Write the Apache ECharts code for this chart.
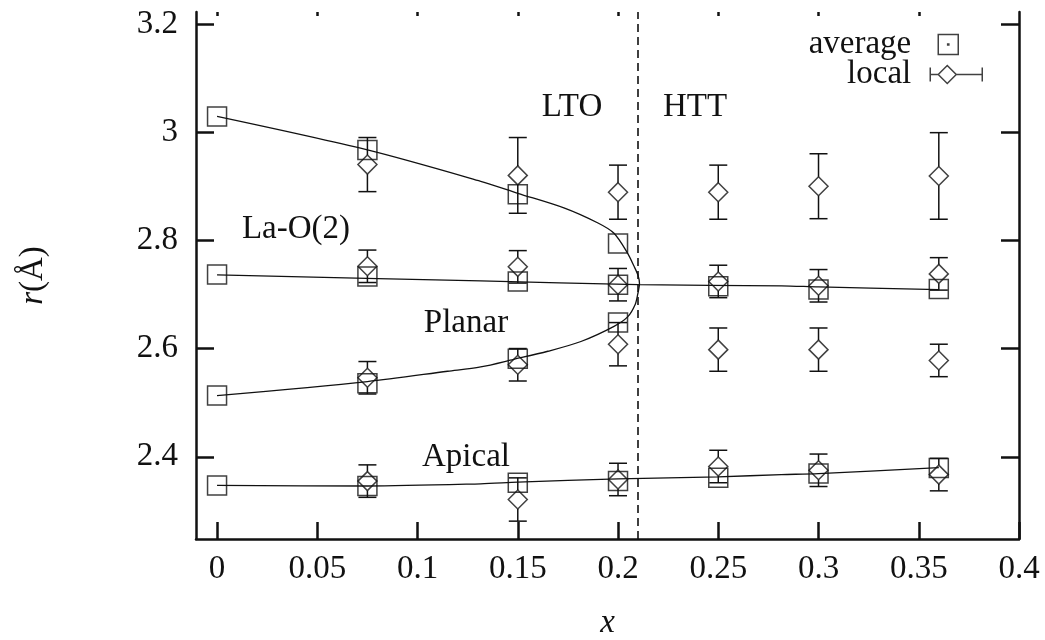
<!DOCTYPE html>
<html lang="en">
<head>
    <meta charset="UTF-8">
    <title>r vs x</title>
    <script src="https://cdn.jsdelivr.net/npm/echarts@6/dist/echarts.min.js"></script>
    <style>
        html, body { margin: 0; padding: 0; background: #fff; }
    </style>
</head>
<body>
    <div id="main" style="width: 1045px; height: 640px"></div>
    <script type="text/javascript">
        // phase boundary LTO / HTT
        const boundaryX = 0.21;
        const xTicks = [0, 0.05, 0.1, 0.15, 0.2, 0.25, 0.3, 0.35, 0.4];
        const yTicks = [2.4, 2.6, 2.8, 3, 3.2];

        // average (squares)
        const avgX = [0, 0.075, 0.15, 0.2, 0.25, 0.3, 0.36];
        const avgLaO = [2.737, 2.733, 2.724, 2.718, 2.715, 2.709, 2.710];
        const avgApical = [2.347, 2.346, 2.352, 2.355, 2.361, 2.369, 2.379];
        const avgLtoX = [0, 0.075, 0.15, 0.2];
        const avgUpper = [3.029, 2.967, 2.885, 2.794];
        const avgPlanar = [2.513, 2.536, 2.581, 2.648];

        // local (diamonds with error bars)
        const locX = [0.075, 0.15, 0.2, 0.25, 0.3, 0.36];
        const locUpper = [2.940, 2.920, 2.889, 2.889, 2.900, 2.919];
        const locUpperErr = [0.05, 0.07, 0.05, 0.05, 0.06, 0.08];
        const locLaO = [2.752, 2.751, 2.718, 2.724, 2.716, 2.738];
        const locLaOErr = [0.03, 0.03, 0.03, 0.03, 0.03, 0.03];
        const locPlanar = [2.546, 2.570, 2.608, 2.598, 2.598, 2.578];
        const locPlanarErr = [0.03, 0.03, 0.04, 0.04, 0.04, 0.03];
        const locApical = [2.355, 2.321, 2.358, 2.382, 2.375, 2.367];
        const locApicalErr = [0.03, 0.04, 0.03, 0.03, 0.03, 0.03];

        // guide curves
        const splitX = [0, 0.075, 0.1315, 0.15, 0.173, 0.19, 0.198, 0.2048, 0.208, 0.2100, 0.2107,
                        0.2098, 0.2085, 0.2049, 0.198, 0.1815, 0.165, 0.148, 0.1315, 0.115, 0.075, 0];
        const splitY = [3.029, 2.967, 2.909, 2.887, 2.860, 2.832, 2.813, 2.776, 2.752, 2.735, 2.720,
                        2.700, 2.681, 2.659, 2.641, 2.613, 2.595, 2.580, 2.566, 2.558, 2.539, 2.513];
        const laoX = [0, 0.1315, 0.21, 0.2815, 0.3, 0.36];
        const laoY = [2.736, 2.725, 2.718, 2.716, 2.714, 2.709];
        const apX = [0, 0.075, 0.1315, 0.15, 0.2, 0.25, 0.2815, 0.3, 0.36];
        const apY = [2.347, 2.346, 2.350, 2.353, 2.359, 2.363, 2.367, 2.369, 2.380];

        const serif = '"Liberation Serif", "DejaVu Serif", serif';
        const ink = '#111';
        const xMin = -0.0105, xMax = 0.4, yMin = 2.248, yMax = 3.222;

        function pairs(xs, ys) { return xs.map((x, i) => [x, ys[i]]); }
        function triples(xs, ys, es) { return xs.map((x, i) => [x, ys[i], es[i]]); }

        const avgData = pairs(avgX, avgLaO).concat(pairs(avgX, avgApical),
            pairs(avgLtoX, avgUpper), pairs(avgLtoX, avgPlanar));
        const locData = pairs(locX, locUpper).concat(pairs(locX, locLaO),
            pairs(locX, locPlanar), pairs(locX, locApical));
        const errData = triples(locX, locUpper, locUpperErr).concat(triples(locX, locLaO, locLaOErr),
            triples(locX, locPlanar, locPlanarErr), triples(locX, locApical, locApicalErr));

        function renderErr(params, api) {
            const x = api.value(0), y = api.value(1), e = api.value(2);
            const c = api.coord([x, y]);
            const t = api.coord([x, y + e]);
            const b = api.coord([x, y - e]);
            const gap = 9.5, cap = 9;
            const st = {stroke: ink, lineWidth: 1.5};
            const kids = [];
            if (t[1] < c[1] - gap) kids.push({type: 'line', shape: {x1: c[0], y1: t[1], x2: c[0], y2: c[1] - gap}, style: st});
            if (b[1] > c[1] + gap) kids.push({type: 'line', shape: {x1: c[0], y1: c[1] + gap, x2: c[0], y2: b[1]}, style: st});
            kids.push({type: 'line', shape: {x1: c[0] - cap, y1: t[1], x2: c[0] + cap, y2: t[1]}, style: st});
            kids.push({type: 'line', shape: {x1: c[0] - cap, y1: b[1], x2: c[0] + cap, y2: b[1]}, style: st});
            return {type: 'group', children: kids};
        }

        const hollow = {color: 'rgba(0,0,0,0)', borderColor: ink, borderWidth: 1.5};
        const legendText = {fontFamily: serif, fontSize: 33, color: ink};

        function txt(s, x, y) {
            return {type: 'text', x: x, y: y, style: {text: s, font: '33px ' + serif, fill: ink, align: 'center', verticalAlign: 'middle'}};
        }

        let myChart = echarts.init(document.getElementById('main'));
        let option = {
            animation: false,
            backgroundColor: '#fff',
            grid: {left: 196, right: 26, top: 12, bottom: 101, outerBoundsMode: 'none'},
            legend: [
                {
                    data: [{name: 'average', icon: 'path://M0,0H20V20H0ZM9.4,9.4H10.6V10.6H9.4Z', itemStyle: hollow}],
                    right: 86, top: 28, padding: 0, itemWidth: 20, itemHeight: 20, align: 'right',
                    selectedMode: false,
                    textStyle: Object.assign({padding: [0, 22, 11, 0]}, legendText)
                },
                {
                    data: [{name: 'local', icon: 'path://M0,2V16M0,9H8M26,9H52M52,2V16M17,0L26,9L17,18L8,9Z', itemStyle: hollow}],
                    right: 62, top: 58, padding: 0, itemWidth: 52, itemHeight: 18, align: 'right',
                    selectedMode: false,
                    textStyle: Object.assign({padding: [0, 14, 0, 0]}, legendText)
                }
            ],
            xAxis: [
                {
                    type: 'value', position: 'bottom', min: xMin, max: xMax,
                    name: 'x', nameLocation: 'middle', nameGap: 68,
                    nameTextStyle: {fontFamily: serif, fontSize: 33, fontStyle: 'italic', color: ink},
                    axisLine: {show: true, onZero: false, lineStyle: {color: ink, width: 2.5}},
                    axisTick: {inside: true, length: 17, customValues: xTicks, lineStyle: {color: ink, width: 2.5}},
                    axisLabel: {customValues: xTicks, margin: 14, fontFamily: serif, fontSize: 33, color: ink,
                        formatter: v => String(v)},
                    splitLine: {show: false}
                },
                {
                    type: 'value', position: 'top', min: xMin, max: xMax,
                    axisLine: {show: false, onZero: false},
                    axisTick: {show: true, inside: true, length: 4, customValues: xTicks.slice(0, 8), lineStyle: {color: ink, width: 2.5}},
                    axisLabel: {show: false},
                    splitLine: {show: false}
                }
            ],
            yAxis: [
                {
                    type: 'value', position: 'left', min: yMin, max: yMax,
                    name: '{i|r}(Å)', nameLocation: 'middle', nameGap: 146,
                    nameTextStyle: {fontFamily: serif, fontSize: 33, color: ink,
                        rich: {i: {fontFamily: serif, fontSize: 33, fontStyle: 'italic', color: ink}}},
                    axisLine: {show: true, onZero: false, lineStyle: {color: ink, width: 2.5}},
                    axisTick: {inside: true, length: 18, customValues: yTicks, lineStyle: {color: ink, width: 2.5}},
                    axisLabel: {customValues: yTicks, margin: 18, fontFamily: serif, fontSize: 33, color: ink,
                        formatter: v => String(v)},
                    splitLine: {show: false}
                },
                {
                    type: 'value', position: 'right', min: yMin, max: yMax,
                    axisLine: {show: true, onZero: false, lineStyle: {color: ink, width: 2.5}},
                    axisTick: {inside: true, length: 18, customValues: yTicks, lineStyle: {color: ink, width: 2.5}},
                    axisLabel: {show: false},
                    splitLine: {show: false}
                }
            ],
            graphic: [
                txt('LTO', 572, 107),
                txt('HTT', 695, 107),
                txt('La-O(2)', 296, 229),
                txt('Planar', 466, 323),
                txt('Apical', 466, 457)
            ],
            series: [
                {
                    type: 'line', name: 'split', data: pairs(splitX, splitY), smooth: 0.3,
                    showSymbol: false, lineStyle: {color: ink, width: 1.3}, silent: true,
                    markLine: {
                        silent: true, symbol: 'none', label: {show: false},
                        lineStyle: {color: ink, width: 1.6, type: [8, 5]},
                        data: [{xAxis: boundaryX}]
                    }
                },
                {
                    type: 'line', name: 'laoFit', data: pairs(laoX, laoY), smooth: 0.3,
                    showSymbol: false, lineStyle: {color: ink, width: 1.3}, silent: true
                },
                {
                    type: 'line', name: 'apicalFit', data: pairs(apX, apY), smooth: 0.3,
                    showSymbol: false, lineStyle: {color: ink, width: 1.3}, silent: true
                },
                {
                    type: 'custom', name: 'localErr', data: errData, renderItem: renderErr,
                    encode: {x: 0, y: 1}, silent: true
                },
                {
                    type: 'scatter', name: 'average', data: avgData, symbol: 'rect', symbolSize: 19,
                    itemStyle: hollow, silent: true
                },
                {
                    type: 'scatter', name: 'local', data: locData, symbol: 'diamond', symbolSize: 19,
                    itemStyle: hollow, silent: true
                }
            ]
        };
        myChart.setOption(option);
    </script>
</body>
</html>
